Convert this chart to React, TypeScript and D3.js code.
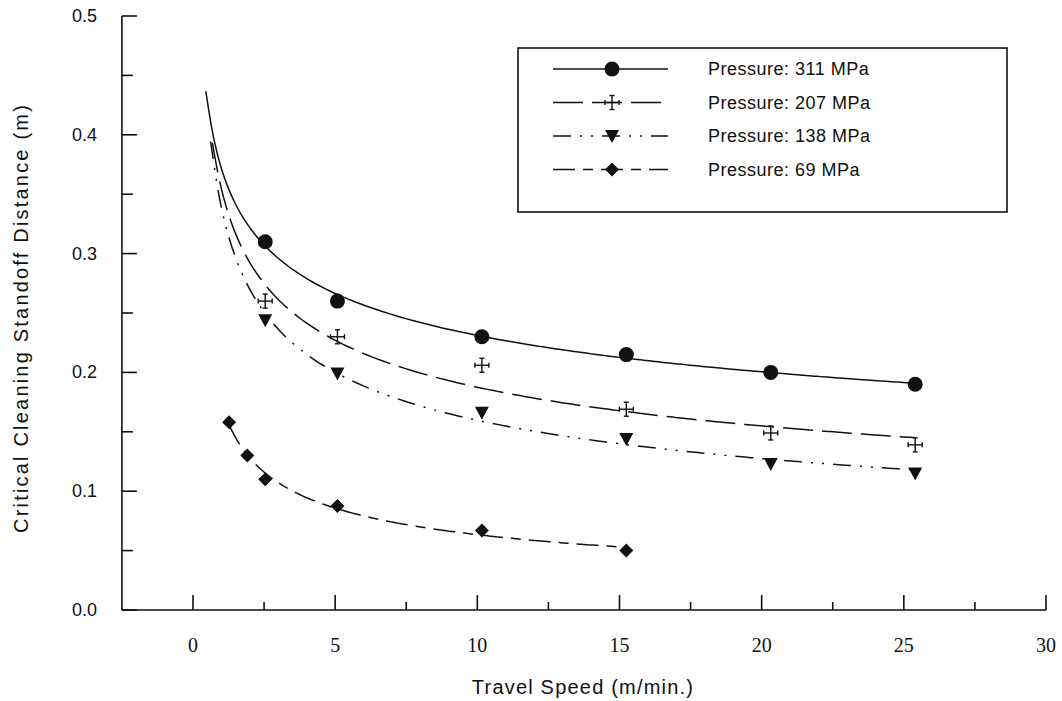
import React from 'react';
import * as d3 from 'd3';

const speeds = [2.54, 5.08, 10.16, 15.24, 20.32, 25.4];
const speeds69 = [1.27, 1.91, 2.54, 5.08, 10.16, 15.24];
const p311 = [0.31, 0.26, 0.23, 0.215, 0.2, 0.19];
const p207 = [0.26, 0.23, 0.206, 0.169, 0.149, 0.139];
const p138 = [0.244, 0.199, 0.166, 0.144, 0.123, 0.115];
const p69 = [0.158, 0.13, 0.11, 0.0875, 0.067, 0.05];
const seriesNames = ['Pressure: 311 MPa', 'Pressure: 207 MPa', 'Pressure: 138 MPa', 'Pressure: 69 MPa'];
const curveStart = [0.45, 0.68, 0.62, 1.27];
const xTicks = [0, 5, 10, 15, 20, 25, 30];
const xMinor = [2.5, 7.5, 12.5, 17.5, 22.5, 27.5];
const yTicks = [0, 0.1, 0.2, 0.3, 0.4, 0.5];
const yMinor = [0.05, 0.15, 0.25, 0.35, 0.45];

const markerTypes = ['circle', 'cross', 'triangle', 'diamond'];
const dashes = ['none', '30,9', '18,9,2,9,2,9', '22,8,10,8'];

const W = 1062, H = 701;
const x = d3.scaleLinear().domain([0, 30]).range([193, 1046]);
const y = d3.scaleLinear().domain([0, 0.5]).range([610, 16]);

function powerFit(xs: number[], ys: number[]) {
  const lx = xs.map(Math.log), ly = ys.map(Math.log);
  const mx = d3.mean(lx)!, my = d3.mean(ly)!;
  let num = 0, den = 0;
  lx.forEach((v, i) => { num += (v - mx) * (ly[i] - my); den += (v - mx) * (v - mx); });
  const b = num / den;
  const a = Math.exp(my - b * mx);
  return (t: number) => a * Math.pow(t, b);
}

function Marker({ type, cx, cy }: { type: string; cx: number; cy: number }) {
  if (type === 'circle') return <circle cx={cx} cy={cy} r={7.5} fill="#111" />;
  if (type === 'triangle') {
    const s = 7;
    return <path d={`M${cx - s},${cy - 6}L${cx + s},${cy - 6}L${cx},${cy + 7}Z`} fill="#111" />;
  }
  if (type === 'diamond') {
    const s = 7;
    return <path d={`M${cx},${cy - s}L${cx + s},${cy}L${cx},${cy + s}L${cx - s},${cy}Z`} fill="#111" />;
  }
  const h = 7, w = 7, c = 2.5;
  return (
    <g stroke="#111" strokeWidth={1.4} fill="none">
      <line x1={cx - w} y1={cy} x2={cx + w} y2={cy} />
      <line x1={cx} y1={cy - h} x2={cx} y2={cy + h} />
      <line x1={cx - c} y1={cy - h} x2={cx + c} y2={cy - h} />
      <line x1={cx - c} y1={cy + h} x2={cx + c} y2={cy + h} />
      <line x1={cx - w} y1={cy - c} x2={cx - w} y2={cy + c} />
      <line x1={cx + w} y1={cy - c} x2={cx + w} y2={cy + c} />
    </g>
  );
}

export default function App() {
  const series = [
    { xs: speeds, ys: p311 },
    { xs: speeds, ys: p207 },
    { xs: speeds, ys: p138 },
    { xs: speeds69, ys: p69 },
  ];
  const line = d3.line<[number, number]>().x(d => x(d[0])).y(d => y(d[1])).curve(d3.curveBasis);
  const sans = "'Liberation Sans', Arial, Helvetica, sans-serif";
  const serif = "'Liberation Serif', 'Times New Roman', serif";
  const x0 = x(-2.5);

  return (
    <svg width={W} height={H} style={{ position: 'absolute', left: 0, top: 0, background: '#fff' }}>
      <rect width={W} height={H} fill="#fff" />
      {/* axes */}
      <g stroke="#111" strokeWidth={1.6}>
        <line x1={x0} y1={y(0.5)} x2={x0} y2={y(0)} />
        <line x1={x0} y1={y(0)} x2={x(30)} y2={y(0)} />
        {yTicks.map(t => <line key={'yt' + t} x1={x0} x2={x0 + 15} y1={y(t)} y2={y(t)} />)}
        {yMinor.map(t => <line key={'ym' + t} x1={x0} x2={x0 + 11} y1={y(t)} y2={y(t)} />)}
        {xTicks.map(t => <line key={'xt' + t} x1={x(t)} x2={x(t)} y1={y(0)} y2={y(0) - 15} />)}
        {xMinor.map(t => <line key={'xm' + t} x1={x(t)} x2={x(t)} y1={y(0)} y2={y(0) - 8} />)}
      </g>
      <g fontFamily={sans} fontSize={18} fill="#111" textAnchor="end">
        {yTicks.map(t => <text key={'yl' + t} x={97} y={y(t) + 6}>{t.toFixed(1)}</text>)}
      </g>
      <g fontFamily={serif} fontSize={20} fill="#111" textAnchor="middle">
        {xTicks.map(t => <text key={'xl' + t} x={x(t)} y={652}>{t}</text>)}
      </g>
      <text x={583} y={694} fontFamily={sans} fontSize={20} letterSpacing={1.2} textAnchor="middle" fill="#111">Travel Speed (m/min.)</text>
      <text transform={`translate(28,318) rotate(-90)`} fontFamily={sans} fontSize={20} letterSpacing={2.2} textAnchor="middle" fill="#111">Critical Cleaning Standoff Distance (m)</text>

      {/* curves */}
      {series.map((s, i) => {
        const f = powerFit(s.xs, s.ys);
        const end = s.xs[s.xs.length - 1];
        const n = 120;
        const pts: [number, number][] = d3.range(n + 1).map(k => {
          const t = curveStart[i] + (end - curveStart[i]) * k / n;
          return [t, f(t)];
        });
        return <path key={'c' + i} d={line(pts)!} fill="none" stroke="#111" strokeWidth={1.5} strokeDasharray={dashes[i]} />;
      })}
      {series.map((s, i) => s.xs.map((v, j) => (
        <Marker key={`m${i}-${j}`} type={markerTypes[i]} cx={x(v)} cy={y(s.ys[j])} />
      )))}

      {/* legend */}
      <rect x={518} y={48} width={489} height={164} fill="#fff" stroke="#111" strokeWidth={1.6} />
      {seriesNames.map((nm, i) => {
        const ly = 69 + i * 33.5;
        return (
          <g key={'lg' + i}>
            <line x1={553} x2={668} y1={ly} y2={ly} stroke="#111" strokeWidth={1.5} strokeDasharray={dashes[i]} />
            <Marker type={markerTypes[i]} cx={612} cy={ly} />
            <text x={708} y={ly + 6} fontFamily={sans} fontSize={18} letterSpacing={0.5} fill="#111">{nm}</text>
          </g>
        );
      })}
    </svg>
  );
}
